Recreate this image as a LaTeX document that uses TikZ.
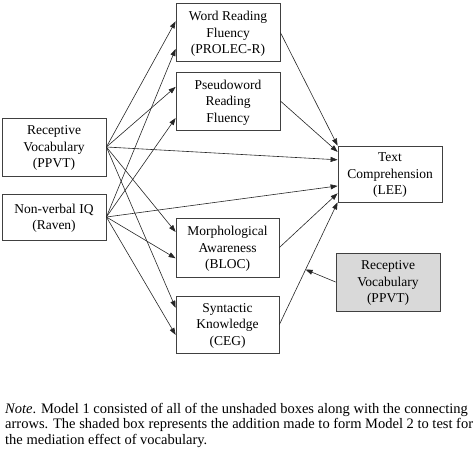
\documentclass[tikz,border=0pt]{standalone}
\usepackage{fontspec}
\setmainfont{Liberation Serif}
\usetikzlibrary{arrows.meta,calc}
\begin{document}
\begin{tikzpicture}[x=1pt,y=-1pt,
  box/.style={draw=black!75,line width=0.8pt,rectangle,align=center,inner sep=0pt,
    minimum width=104pt,text depth=0pt,font=\fontsize{13.5}{16.5}\selectfont},
  shaded/.style={box,fill=black!15},
  arr/.style={draw=black!85,line width=0.6pt,-{Triangle[length=7pt,width=5pt]}}]
\useasboundingbox (0,0) rectangle (474,453);
\node[box,minimum height=58pt] (WR) at (228,32.5) {Word Reading\\Fluency\\(PROLEC-R)};
\node[box,minimum height=58pt] (PS) at (228,101) {Pseudoword\\Reading\\Fluency};
\node[box,minimum height=58pt] (RV) at (54,147) {Receptive\\Vocabulary\\(PPVT)};
\node[box,minimum height=46pt] (IQ) at (54,217) {Non-verbal IQ\\(Raven)};
\node[box,minimum height=56pt] (TC) at (390,174) {Text\\Comprehension\\(LEE)};
\node[box,minimum height=59pt,minimum width=103pt] (MA) at (227.5,247.5) {Morphological\\Awareness\\(BLOC)};
\node[box,minimum height=57pt,minimum width=103pt] (SK) at (227.5,324.5) {Syntactic\\Knowledge\\(CEG)};
\node[shaded,minimum height=58pt] (RV2) at (388,282) {Receptive\\Vocabulary\\(PPVT)};
% targets on left sides
\coordinate (WRa) at ($(WR.north west)!0.31!(WR.south west)$);
\coordinate (WRb) at ($(WR.north west)!0.78!(WR.south west)$);
\coordinate (PSa) at ($(PS.north west)!0.26!(PS.south west)$);
\coordinate (PSb) at ($(PS.north west)!0.79!(PS.south west)$);
\coordinate (MAa) at ($(MA.north west)!0.24!(MA.south west)$);
\coordinate (MAb) at ($(MA.north west)!0.68!(MA.south west)$);
\coordinate (SKa) at ($(SK.north west)!0.21!(SK.south west)$);
\coordinate (SKb) at ($(SK.north west)!0.68!(SK.south west)$);
\coordinate (TC1) at ($(TC.north west)!0.0!(TC.south west)$);
\coordinate (TC2) at ($(TC.north west)!0.11!(TC.south west)$);
\coordinate (TC3) at ($(TC.north west)!0.25!(TC.south west)$);
\coordinate (TC4) at ($(TC.north west)!0.71!(TC.south west)$);
\coordinate (TC5) at ($(TC.north west)!0.84!(TC.south west)$);
\coordinate (TC6) at ($(TC.north west)!1.0!(TC.south west)$);
% from Receptive Vocabulary
\draw[arr] (RV.east) -- (WRa);
\draw[arr] (RV.east) -- (PSa);
\draw[arr] (RV.east) -- (TC3);
\draw[arr] (RV.east) -- (MAa);
\draw[arr] (RV.east) -- (SKa);
% from Non-verbal IQ
\draw[arr] (IQ.east) -- (WRb);
\draw[arr] (IQ.east) -- (PSb);
\draw[arr] (IQ.east) -- (TC4);
\draw[arr] (IQ.east) -- (MAb);
\draw[arr] (IQ.east) -- (SKb);
% mediators to Text Comprehension
\draw[arr] (WR.east) -- (TC1);
\draw[arr] (PS.east) -- (TC2);
\draw[arr] (MA.east) -- (TC5);
\draw[arr] (SK.east) -- coordinate[pos=0.45] (mid) (TC6);
\draw[arr] (RV2.west) -- (mid);
% note
\node[anchor=base west,align=left,inner sep=0pt,font=\fontsize{14.5}{15.5}\selectfont] (note) at (5,444)
  {\textit{Note}. Model 1 consisted of all of the unshaded boxes along with the connecting\\
   arrows. The shaded box represents the addition made to form Model 2 to test for\\
   the mediation effect of vocabulary.};
\end{tikzpicture}
\end{document}
